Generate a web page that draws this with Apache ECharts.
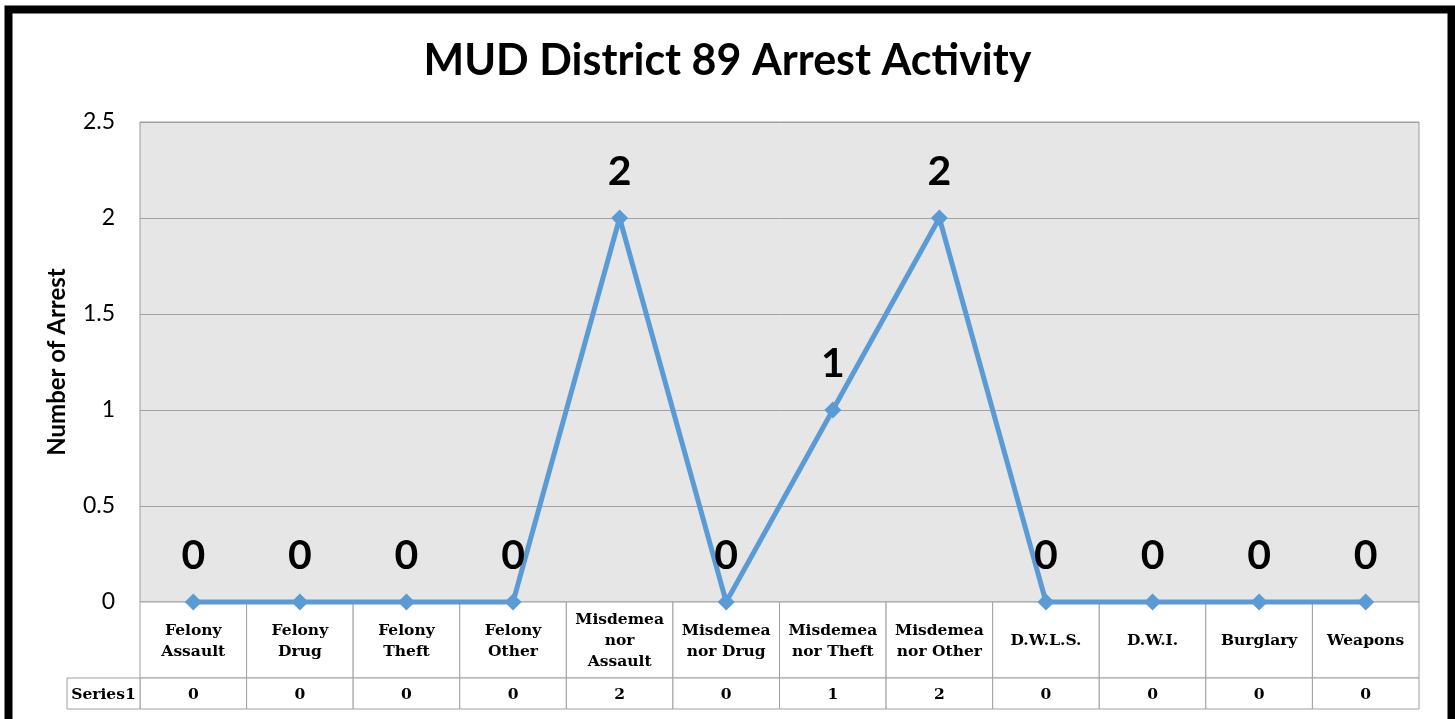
<!DOCTYPE html>
<html>
<head>
<meta charset="utf-8">
<script src="https://cdn.jsdelivr.net/npm/echarts@6/dist/echarts.min.js"></script>
<style>
html,body{margin:0;padding:0;background:#fff;}
#chart{width:1455px;height:719px;}
</style>
</head>
<body>
<div id="chart"></div>
<script>
var title = 'MUD District 89 Arrest Activity';
var yAxisName = 'Number of Arrest';
var seriesName = 'Series1';
var categories = ['Felony Assault','Felony Drug','Felony Theft','Felony Other','Misdemeanor Assault','Misdemeanor Drug','Misdemeanor Theft','Misdemeanor Other','D.W.L.S.','D.W.I.','Burglary','Weapons'];
var categoryLabels = ['Felony\nAssault','Felony\nDrug','Felony\nTheft','Felony\nOther','Misdemea\nnor\nAssault','Misdemea\nnor Drug','Misdemea\nnor Theft','Misdemea\nnor Other','D.W.L.S.','D.W.I.','Burglary','Weapons'];
var values = [0,0,0,0,2,0,1,2,0,0,0,0];
var yTicks = [0,0.5,1,1.5,2,2.5];

var sansFont = 'Lato';
var tableFont = 'DejaVu Serif';

var chart = echarts.init(document.getElementById('chart'), null, {renderer:'canvas'});

var tableData = categories.map(function(c,i){ return [i, 1]; });

var option = {
  animation:false,
  backgroundColor:'#ffffff',
  title:{
    text:title, left:'center', top:35,
    textStyle:{fontFamily:sansFont, fontWeight:'bold', fontSize:43, color:'#000'}
  },
  grid:[
    {left:140, right:36, top:122, height:480, show:true, backgroundColor:'#e6e6e6', borderColor:'#9a9a9a', borderWidth:1, containLabel:false},
    {left:140, right:36, top:602, height:107, show:false, containLabel:false}
  ],
  xAxis:[
    {gridIndex:0, type:'category', data:categories, boundaryGap:true, axisLine:{show:false}, axisTick:{show:false}, axisLabel:{show:false}, splitLine:{show:false}},
    {gridIndex:1, type:'category', data:categories, boundaryGap:true, axisLine:{show:false}, axisTick:{show:false}, axisLabel:{show:false}, splitLine:{show:false}}
  ],
  yAxis:[
    {gridIndex:0, type:'value', min:yTicks[0], max:yTicks[yTicks.length-1], interval:0.5,
     name:yAxisName, nameLocation:'middle', nameGap:71, nameRotate:90,
     nameTextStyle:{fontFamily:sansFont, fontWeight:'bold', fontSize:24, color:'#000'},
     axisLine:{show:false}, axisTick:{show:false},
     axisLabel:{fontFamily:sansFont, fontSize:23, color:'#000', margin:25},
     splitLine:{show:true, lineStyle:{color:'#a0a0a0', width:1}}},
    {gridIndex:1, type:'value', min:0, max:1, show:false}
  ],
  graphic:[
    {type:'rect', shape:{x:8.5, y:9.5, width:1443, height:760}, style:{fill:'none', stroke:'#000', lineWidth:8}, z:100}
  ],
  series:[
    {
      type:'custom', xAxisIndex:1, yAxisIndex:1, data:tableData, z:1,
      renderItem:function(params, api){
        var idx = api.value(0);
        var c = api.coord([idx, 1]);
        var b = api.coord([idx, 0]);
        var w = api.size([1,0])[0];
        var top = c[1], bottom = b[1];
        var h = bottom - top;
        var catH = Math.round(h*0.71);
        var x0 = c[0] - w/2;
        var lineStyle = {fill:'#fff', stroke:'#a0a0a0', lineWidth:1};
        var children = [
          {type:'rect', shape:{x:x0, y:top, width:w, height:catH}, style:lineStyle},
          {type:'rect', shape:{x:x0, y:top+catH, width:w, height:h-catH}, style:lineStyle},
          {type:'text', style:{text:categoryLabels[idx], x:c[0], y:top+catH/2+1, align:'center', verticalAlign:'middle', fontFamily:tableFont, fontWeight:'bold', fontSize:15.5, lineHeight:21, fill:'#000'}},
          {type:'text', style:{text:String(values[idx]), x:c[0], y:top+catH+(h-catH)/2+1, align:'center', verticalAlign:'middle', fontFamily:tableFont, fontWeight:'bold', fontSize:15.5, fill:'#000'}}
        ];
        if (idx === 0) {
          var hw = 73;
          children.push({type:'rect', shape:{x:x0-hw, y:top+catH, width:hw, height:h-catH}, style:lineStyle});
          children.push({type:'text', style:{text:seriesName, x:x0-hw/2, y:top+catH+(h-catH)/2+1, align:'center', verticalAlign:'middle', fontFamily:tableFont, fontWeight:'bold', fontSize:15.5, fill:'#000'}});
        }
        return {type:'group', children:children};
      }
    },
    {
      type:'line', name:seriesName, xAxisIndex:0, yAxisIndex:0, data:values, z:10, clip:false,
      symbol:'diamond', symbolSize:17,
      lineStyle:{color:'#5b9bd5', width:5},
      itemStyle:{color:'#5b9bd5'},
      label:{show:true, position:'top', distance:17, fontFamily:sansFont, fontWeight:'bold', fontSize:41, color:'#000'}
    }
  ]
};
chart.setOption(option);
</script>
</body>
</html>
